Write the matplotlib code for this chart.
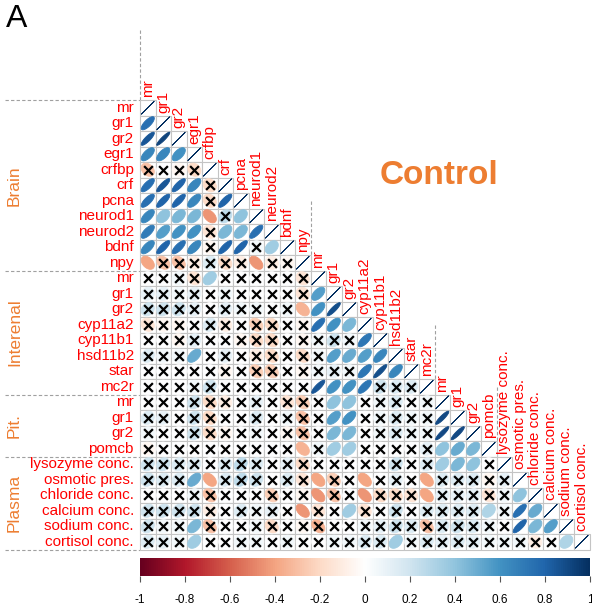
import numpy as np
import matplotlib
matplotlib.use('Agg')
import matplotlib.pyplot as plt
from matplotlib.colors import LinearSegmentedColormap
from matplotlib.patches import Polygon, Rectangle

plt.rcParams['font.family'] = ['Liberation Sans', 'DejaVu Sans']
plt.rcParams['axes.unicode_minus'] = False

# ---------------- data ----------------
labels = ['mr', 'gr1', 'gr2', 'egr1', 'crfbp', 'crf', 'pcna', 'neurod1', 'neurod2', 'bdnf', 'npy',
          'mr', 'gr1', 'gr2', 'cyp11a2', 'cyp11b1', 'hsd11b2', 'star', 'mc2r',
          'mr', 'gr1', 'gr2', 'pomcb',
          'lysozyme conc.', 'osmotic pres.', 'chloride conc.', 'calcium conc.', 'sodium conc.', 'cortisol conc.']
groups = ['Brain', 'Interenal', 'Pit.', 'Plasma']
group_sizes = [11, 8, 4, 6]

# lower-triangle correlations (row i, columns 0..i-1); 'x' = not significant
r_b_mr = []
r_b_gr1 = [0.75]
r_b_gr2 = [0.85, 0.92]
r_egr1 = [0.65, 0.65, 0.6]
r_crfbp = [-0.3, 0.0, -0.05, -0.2]
r_crf = [0.75, 0.85, 0.8, 0.65, -0.2]
r_pcna = [0.75, 0.8, 0.8, 0.65, -0.2, 0.8]
r_neurod1 = [0.65, 0.4, 0.45, 0.45, -0.45, 0.25, 0.4]
r_neurod2 = [0.7, 0.55, 0.6, 0.6, -0.15, 0.45, 0.45, 0.75]
r_bdnf = [0.65, 0.8, 0.75, 0.65, -0.05, 0.8, 0.8, 0.05, 0.35]
r_npy = [-0.4, -0.3, -0.3, -0.1, 0.15, -0.2, -0.1, -0.45, -0.1, -0.05]
r_i_mr = [0.0, 0.0, 0.05, -0.15, 0.35, 0.0, 0.0, 0.0, 0.0, 0.0, -0.15]
r_i_gr1 = [0.1, 0.1, 0.05, 0.1, 0.0, 0.05, 0.0, 0.0, 0.0, 0.0, -0.15, 0.55]
r_i_gr2 = [0.2, 0.2, 0.2, 0.1, 0.0, 0.1, 0.05, 0.05, 0.0, 0.05, -0.35, 0.6, 0.88]
r_cyp11a2 = [-0.15, -0.05, -0.05, 0.0, 0.15, -0.1, 0.0, -0.25, -0.2, 0.0, -0.05, 0.75, 0.6, 0.45]
r_cyp11b1 = [0.0, 0.0, -0.05, 0.1, 0.0, 0.0, -0.05, -0.2, -0.2, 0.0, -0.05, 0.05, 0.2, 0.05, 0.72]
r_hsd11b2 = [0.15, 0.05, 0.05, 0.5, 0.0, 0.1, 0.0, -0.1, -0.2, 0.0, -0.2, 0.05, 0.55, 0.5, 0.55, 0.65]
r_star = [0.0, 0.0, 0.0, 0.0, 0.0, -0.05, 0.0, -0.25, -0.25, 0.0, -0.05, 0.05, 0.1, 0.05, 0.72, 0.88, 0.65]
r_mc2r = [0.0, 0.0, 0.0, 0.05, 0.2, 0.0, 0.0, 0.0, 0.0, 0.0, 0.0, 0.85, 0.6, 0.6, 0.72, 0.2, 0.15, 0.15]
r_p_mr = [0.0, 0.0, 0.0, 0.2, -0.2, -0.1, 0.0, 0.1, 0.0, -0.15, -0.25, 0.0, 0.4, 0.4, 0.0, 0.05, 0.15, 0.0, 0.05]
r_p_gr1 = [0.15, 0.1, 0.0, 0.2, -0.2, 0.0, 0.0, 0.15, 0.0, 0.05, -0.3, 0.0, 0.55, 0.6, 0.0, 0.05, 0.15, 0.05, 0.05, 0.9]
r_p_gr2 = [0.05, 0.0, 0.0, 0.2, -0.2, -0.05, 0.0, 0.05, 0.0, -0.05, -0.3, 0.0, 0.45, 0.45, 0.0, 0.05, 0.15, 0.05, 0.05, 0.9, 0.9]
r_pomcb = [-0.05, 0.0, 0.0, 0.0, 0.0, 0.0, 0.0, 0.0, 0.0, 0.0, -0.35, 0.05, 0.35, 0.35, 0.0, 0.0, 0.0, 0.0, 0.1, 0.4, 0.5, 0.45]
r_lysozyme = [0.2, 0.2, 0.15, 0.15, 0.0, 0.15, 0.25, 0.15, 0.0, 0.1, -0.2, 0.0, 0.0, 0.0, 0.0, 0.0, 0.2, 0.0, 0.15, 0.35, 0.45, 0.4, 0.0]
r_osmotic = [0.2, 0.15, 0.15, 0.5, -0.4, 0.15, 0.25, 0.2, 0.0, 0.15, -0.15, -0.4, -0.25, 0.0, -0.4, 0.0, 0.1, 0.0, -0.4, 0.15, 0.15, 0.15, -0.05, 0.1]
r_chloride = [0.0, 0.0, 0.0, 0.05, -0.3, 0.0, 0.0, 0.0, -0.25, 0.0, -0.05, -0.45, -0.3, 0.0, -0.45, -0.2, -0.2, -0.15, -0.4, 0.1, 0.1, 0.1, -0.15, 0.05, 0.4]
r_calcium = [0.2, 0.2, 0.2, 0.2, -0.1, 0.0, 0.15, 0.05, 0.1, 0.0, -0.45, -0.15, 0.0, 0.35, -0.15, 0.0, 0.2, 0.0, 0.15, 0.15, 0.15, 0.15, 0.3, 0.05, 0.75, 0.5]
r_sodium = [0.2, 0.05, 0.05, 0.45, -0.3, 0.0, 0.0, 0.05, -0.2, 0.0, -0.05, -0.35, 0.0, 0.0, 0.05, 0.1, 0.2, 0.15, -0.3, 0.15, 0.2, 0.15, 0.05, 0.0, 0.8, 0.45, 0.55]
r_cortisol = [0.15, 0.1, 0.05, 0.35, 0.0, 0.0, 0.05, 0.05, 0.0, 0.05, 0.0, 0.0, 0.05, 0.05, 0.15, 0.15, 0.35, 0.05, 0.15, 0.1, 0.15, 0.1, 0.05, 0.05, 0.05, -0.1, 0.0, 0.3]

s_b_mr = ""
s_b_gr1 = "o"
s_b_gr2 = "oo"
s_egr1 = "ooo"
s_crfbp = "xxxx"
s_crf = "oooox"
s_pcna = "ooooxo"
s_neurod1 = "oooooxo"
s_neurod2 = "ooooxooo"
s_bdnf = "ooooxooxo"
s_npy = "oxxxxxxoxx"
s_i_mr = "xxxxoxxxxxx"
s_i_gr1 = "xxxxxxxxxxxo"
s_i_gr2 = "xxxxxxxxxxooo"
s_cyp11a2 = "xxxxxxxxxxxooo"
s_cyp11b1 = "xxxxxxxxxxxxxxo"
s_hsd11b2 = "xxxoxxxxxxxxoooo"
s_star = "xxxxxxxxxxxxxxooo"
s_mc2r = "xxxxxxxxxxxooooxxx"
s_p_mr = "xxxxxxxxxxxxooxxxxx"
s_p_gr1 = "xxxxxxxxxxxxooxxxxxo"
s_p_gr2 = "xxxxxxxxxxxxooxxxxxoo"
s_pomcb = "xxxxxxxxxxoxooxxxxxooo"
s_lysozyme = "xxxxxxxxxxxxxxxxxxxooox"
s_osmotic = "xxxooxxxxxxoxxoxxxoxxxxx"
s_chloride = "xxxxxxxxxxxoxxoxxxoxxxxxo"
s_calcium = "xxxxxxxxxxoxxoxxxxxxxxoxoo"
s_sodium = "xxxoxxxxxxxxxxxxxxxxxxxxooo"
s_cortisol = "xxxoxxxxxxxxxxxxoxxxxxxxxxxo"

cbar_ticks = [-1, -0.8, -0.6, -0.4, -0.2, 0, 0.2, 0.4, 0.6, 0.8, 1]
cbar_labels = ['-1', '-0.8', '-0.6', '-0.4', '-0.2', '0', '0.2', '0.4', '0.6', '0.8', '1']

rows = [r_b_mr, r_b_gr1, r_b_gr2, r_egr1, r_crfbp, r_crf, r_pcna, r_neurod1, r_neurod2, r_bdnf, r_npy,
        r_i_mr, r_i_gr1, r_i_gr2, r_cyp11a2, r_cyp11b1, r_hsd11b2, r_star, r_mc2r,
        r_p_mr, r_p_gr1, r_p_gr2, r_pomcb,
        r_lysozyme, r_osmotic, r_chloride, r_calcium, r_sodium, r_cortisol]
sigs = [s_b_mr, s_b_gr1, s_b_gr2, s_egr1, s_crfbp, s_crf, s_pcna, s_neurod1, s_neurod2, s_bdnf, s_npy,
        s_i_mr, s_i_gr1, s_i_gr2, s_cyp11a2, s_cyp11b1, s_hsd11b2, s_star, s_mc2r,
        s_p_mr, s_p_gr1, s_p_gr2, s_pomcb,
        s_lysozyme, s_osmotic, s_chloride, s_calcium, s_sodium, s_cortisol]

n = len(labels)
M = np.eye(n)
for i, row in enumerate(rows):
    for j, v in enumerate(row):
        M[i, j] = v

# ---------------- style ----------------
cmap = LinearSegmentedColormap.from_list('corrRdBu', [
    "#67001F", "#B2182B", "#D6604D", "#F4A582", "#FDDBC7", "#FFFFFF",
    "#D1E5F0", "#92C5DE", "#4393C3", "#2166AC", "#053061"], N=200)
orange = '#ED7D31'

W, H = 592, 605
CELL, X0, Y0 = 15.5, 140.0, 100.0
fig = plt.figure(figsize=(W / 100, H / 100), dpi=100)
ax = fig.add_axes([0, 0, 1, 1])
ax.set_xlim(-X0 / CELL, (W - X0) / CELL)
ax.set_ylim((H - Y0) / CELL, -Y0 / CELL)
ax.axis('off')

k = np.linspace(0, 2 * np.pi, 99)
xs_ins, ys_ins = [], []
for i in range(n):
    for j in range(i + 1):
        ax.add_patch(Rectangle((j, i), 1, 1, facecolor='white', edgecolor='#C4C4C4', lw=0.8, zorder=1))
        r = M[i, j]
        a = np.arccos(np.clip(r, -1, 1))
        ex = 0.85 * np.cos(k + a / 2) / 2
        ey = 0.85 * np.cos(k - a / 2) / 2
        col = cmap((r + 1) / 2)
        ax.add_patch(Polygon(np.column_stack([j + 0.5 + ex, i + 0.5 - ey]), closed=True,
                             facecolor=col, edgecolor=col, lw=0.6, zorder=2))
        if j < i and sigs[i][j] == 'x':
            xs_ins.append(j + 0.5)
            ys_ins.append(i + 0.5)
ax.scatter(xs_ins, ys_ins, marker='x', s=6.3 ** 2, linewidths=1.6, color='black', zorder=3)

# labels
for i, lab in enumerate(labels):
    ax.text(-0.4, i + 0.5, lab, color='red', fontsize=11, ha='right', va='center')
    ax.text(i + 0.5, i - 0.18, lab, color='red', fontsize=11, ha='center', va='bottom', rotation=90)

# group separators and names
dash = dict(color='#A0A0A0', lw=0.8, ls=(0, (3, 2)), zorder=0)
start = 0
for g, size in zip(groups, group_sizes):
    ax.plot([-8.7, 0], [start, start], **dash)
    ax.plot([start, start], [start - 4.5, start], **dash)
    ax.text(-8.1, start + size / 2, g, color=orange, fontsize=12.5, rotation=90, ha='center', va='center')
    start += size
ax.plot([-8.7, 0], [start, start], **dash)

ax.text(19.3, 4.85, 'Control', color=orange, fontsize=24, fontweight='bold', ha='center', va='center')
ax.text(-7.95, -5.2, 'A', color='black', fontsize=23, ha='center', va='center')

# colour legend
cax = fig.add_axes([140 / W, 1 - 576 / H, 450 / W, 18 / H])
grad = np.linspace(-1, 1, 400).reshape(1, -1)
cax.imshow(grad, cmap=cmap, vmin=-1, vmax=1, aspect='auto', extent=(-1, 1, 0, 1))
cax.set_xlim(-1, 1)
cax.set_yticks([])
cax.set_xticks(cbar_ticks)
cax.set_xticklabels(cbar_labels, fontsize=8.5)
cax.tick_params(axis='x', length=4, pad=9, color='#555555', width=0.8)
for sp in cax.spines.values():
    sp.set_visible(False)

fig.savefig('out.png', dpi=100)
